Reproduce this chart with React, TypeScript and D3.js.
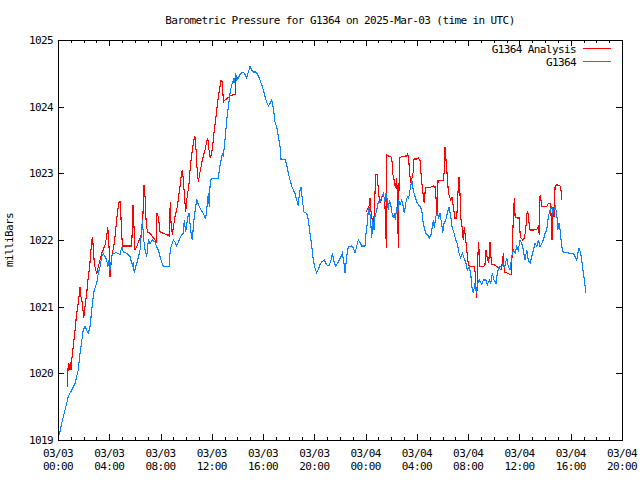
import React from "react";
import * as d3 from "d3";

// Hours since 2025-03-03 00:00 UTC
const stationTimes = [
  0.10, 0.29, 0.55, 0.80, 1.07, 1.33, 1.58, 1.72, 1.97, 2.11, 2.36, 2.50, 2.63, 2.75, 2.83, 3.02, 3.14, 3.28, 3.41, 3.53,
  3.67, 3.80, 3.88, 3.98, 4.06, 4.19, 4.31, 4.58, 4.84, 4.97, 5.09, 5.36, 5.62, 5.80, 5.87, 5.95, 6.06, 6.22, 6.40, 6.48,
  6.58, 6.69, 6.79, 6.92, 7.05, 7.18, 7.36, 7.57, 7.70, 7.83, 7.96, 8.09, 8.22, 8.66, 8.74, 8.82, 9.00, 9.13, 9.26, 9.39,
  9.52, 9.65, 9.78, 9.85, 9.96, 10.04, 10.17, 10.22, 10.30, 10.38, 10.48, 10.56, 10.63, 10.74, 10.82, 10.95, 11.16, 11.34, 11.52, 11.62,
  11.73, 11.80, 11.88, 11.99, 12.51, 12.58, 12.72, 12.82, 12.90, 12.97, 13.08, 13.16, 13.29, 13.42, 13.55, 13.68, 13.75, 13.86, 13.94, 14.07,
  14.20, 14.33, 14.49, 14.59, 14.72, 14.85, 14.98, 15.11, 15.24, 15.42, 15.58, 15.76, 15.89, 16.02, 16.15, 16.28, 16.41, 16.54, 16.67, 16.80,
  16.93, 17.06, 17.19, 17.32, 17.40, 17.71, 17.84, 17.97, 18.10, 18.23, 18.36, 18.49, 18.62, 18.75, 18.83, 18.96, 19.06, 19.19, 19.40, 19.53,
  19.66, 19.79, 19.92, 20.05, 20.18, 20.31, 20.44, 20.57, 20.78, 20.96, 21.14, 21.30, 21.40, 21.56, 21.67, 21.87, 22.08, 22.18, 22.31, 22.39,
  22.52, 22.65, 22.91, 23.04, 23.17, 23.30, 23.43, 23.56, 23.69, 23.95, 24.03, 24.13, 24.21, 24.29, 24.40, 24.48, 24.55, 24.65, 24.73, 24.87,
  24.99, 25.12, 25.26, 25.38, 25.51, 25.59, 25.69, 25.77, 25.85, 25.96, 26.04, 26.16, 26.24, 26.32, 26.43, 26.50, 26.58, 26.68, 26.82, 26.94,
  27.02, 27.13, 27.25, 27.36, 27.46, 27.60, 27.67, 27.78, 27.85, 27.99, 28.11, 28.24, 28.38, 28.45, 28.56, 28.69, 28.84, 28.97, 29.10, 29.20,
  29.28, 29.36, 29.47, 29.59, 29.70, 29.80, 29.94, 30.01, 30.12, 30.25, 30.37, 30.51, 30.64, 30.74, 30.90, 31.03, 31.15, 31.29, 31.42, 31.54,
  31.68, 31.83, 31.93, 32.07, 32.20, 32.28, 32.40, 32.53, 32.64, 32.74, 32.87, 33.06, 33.18, 33.39, 33.50, 33.65, 33.76, 33.88, 34.02, 34.17,
  34.27, 34.41, 34.62, 34.74, 34.85, 35.01, 35.13, 35.26, 35.40, 35.52, 35.66, 35.79, 35.91, 36.05, 36.18, 36.30, 36.43, 36.57, 36.69, 36.83,
  36.96, 37.08, 37.22, 37.35, 37.47, 37.61, 37.74, 37.86, 38.00, 38.13, 38.25, 38.39, 38.52, 38.60, 38.70, 38.80, 38.91, 38.99, 39.09, 39.17,
  39.30, 39.42, 40.20, 40.34, 40.47, 40.55, 40.65, 40.78, 40.86, 40.99, 41.10, 41.17,
];
const stationValues = [
  1019.08, 1019.25, 1019.45, 1019.65, 1019.75, 1019.85, 1020.05, 1020.30, 1020.65, 1020.70, 1020.60, 1020.70, 1020.95, 1021.15, 1021.25, 1021.35, 1021.50, 1021.60, 1021.75, 1021.80,
  1021.75, 1021.70, 1021.60, 1021.70, 1021.55, 1021.75, 1021.80, 1021.81, 1021.78, 1021.90, 1021.82, 1021.80, 1021.75, 1021.62, 1021.67, 1021.50, 1021.60, 1021.70, 1021.85, 1022.05,
  1022.30, 1022.00, 1021.85, 1021.75, 1022.00, 1021.95, 1022.00, 1021.97, 1021.90, 1021.85, 1021.75, 1021.67, 1021.60, 1021.60, 1021.80, 1021.90, 1022.00, 1021.97, 1021.91, 1021.97,
  1022.03, 1022.08, 1022.10, 1022.30, 1022.12, 1022.23, 1022.38, 1022.40, 1022.25, 1022.10, 1022.00, 1022.20, 1022.35, 1022.50, 1022.61, 1022.53, 1022.45, 1022.40, 1022.31, 1022.50,
  1022.70, 1022.50, 1022.90, 1022.92, 1022.92, 1023.05, 1023.20, 1023.30, 1023.25, 1023.40, 1023.60, 1023.80, 1024.00, 1024.20, 1024.33, 1024.40, 1024.35, 1024.50, 1024.40, 1024.43,
  1024.48, 1024.51, 1024.51, 1024.48, 1024.43, 1024.52, 1024.60, 1024.55, 1024.52, 1024.52, 1024.48, 1024.40, 1024.33, 1024.25, 1024.15, 1024.07, 1024.01, 1024.05, 1024.10, 1023.98,
  1023.77, 1023.70, 1023.55, 1023.40, 1023.21, 1023.21, 1023.13, 1023.00, 1022.90, 1022.81, 1022.75, 1022.70, 1022.60, 1022.51, 1022.70, 1022.80, 1022.60, 1022.42, 1022.40, 1022.30,
  1022.10, 1021.92, 1021.70, 1021.58, 1021.51, 1021.56, 1021.63, 1021.67, 1021.70, 1021.63, 1021.61, 1021.70, 1021.80, 1021.65, 1021.61, 1021.67, 1021.75, 1021.80, 1021.65, 1021.50,
  1021.75, 1021.90, 1021.91, 1021.88, 1021.81, 1021.90, 1022.00, 1021.96, 1021.91, 1021.91, 1022.10, 1022.25, 1022.45, 1022.50, 1022.25, 1022.03, 1022.30, 1022.15, 1022.35, 1022.45,
  1022.57, 1022.57, 1022.65, 1022.70, 1022.57, 1022.70, 1022.60, 1022.45, 1022.60, 1022.53, 1022.42, 1022.33, 1022.40, 1022.30, 1022.50, 1022.40, 1022.60, 1022.53, 1022.60, 1022.50,
  1022.40, 1022.55, 1022.65, 1022.63, 1022.75, 1022.90, 1022.80, 1022.70, 1022.65, 1022.57, 1022.53, 1022.50, 1022.45, 1022.30, 1022.20, 1022.10, 1022.08, 1022.03, 1022.08, 1022.20,
  1022.30, 1022.18, 1022.35, 1022.40, 1022.33, 1022.40, 1022.23, 1022.10, 1022.25, 1022.30, 1022.40, 1022.50, 1022.35, 1022.20, 1022.10, 1022.00, 1021.95, 1021.80, 1021.73, 1021.80,
  1021.73, 1021.65, 1021.55, 1021.60, 1021.50, 1021.30, 1021.20, 1021.35, 1021.20, 1021.35, 1021.40, 1021.33, 1021.40, 1021.40, 1021.33, 1021.40, 1021.35, 1021.50, 1021.40, 1021.35,
  1021.50, 1021.60, 1021.60, 1021.65, 1021.60, 1021.73, 1021.60, 1021.55, 1021.75, 1021.85, 1021.80, 1021.90, 1021.85, 1022.00, 1021.95, 1021.85, 1021.70, 1021.85, 1021.70, 1021.65,
  1021.75, 1021.85, 1021.95, 1021.90, 1022.00, 1021.90, 1021.95, 1022.00, 1022.10, 1022.15, 1022.35, 1022.45, 1022.50, 1022.40, 1022.45, 1022.50, 1022.40, 1022.15, 1022.25, 1022.15,
  1021.90, 1021.81, 1021.80, 1021.75, 1021.70, 1021.80, 1021.88, 1021.80, 1021.70, 1021.50, 1021.35, 1021.20,
];

// Analysis series (null = gap in data)
const analysisTimes = [
  0.73, 0.80, 0.88, 0.96, 1.01, 1.12, 1.22, 1.33, 1.43, 1.54, 1.64, 1.72, 1.79, 1.90, 2.01, 2.11, 2.24, 2.36, 2.47, 2.57,
  2.68, 2.75, 2.83, 2.94, 3.04, 3.14, 3.28, 3.41, 3.53, 3.67, 3.80, 3.88, 3.98, 4.06, 4.14, 4.24, 4.35, 4.45, 4.55, 4.66,
  4.76, 4.86, 4.92, 5.02, 5.75, 5.80, 5.85, 5.93, 6.01, 6.14, 6.27, 6.40, 6.53, 6.63, 6.71, 6.79, 6.87, 6.97, 7.18, 7.36,
  7.57, 7.67, 7.72, 7.83, 7.96, 8.22, 8.48, 8.66, 8.71, 8.76, 8.82, 8.92, 9.03, 9.13, 9.26, 9.34, 9.44, 9.52, 9.60, 9.70,
  9.78, 9.85, 9.96, 10.04, 10.12, 10.22, 10.30, 10.38, 10.48, 10.59, 10.69, 10.77, 10.84, 10.95, 11.06, 11.16, 11.26, 11.37, 11.47, 11.57,
  11.68, 11.78, 11.88, 11.99, 12.12, 12.19, 12.30, 12.41, 12.51, 12.62, 12.72, 12.82, 12.90, 13.03, 13.24, 13.42, 13.68, 13.81, 13.86, 13.94,
  14.08, 19.00,
  24.03, 24.21, 24.29, 24.34, 24.40, 24.48, 24.55, 24.65, 24.73, 24.79, 24.91, 24.99, 25.07, 25.18, 25.28, 25.38, 25.49, 25.57, 25.61, 25.64,
  25.77, 26.04, 26.11, 26.22, 26.32, 26.43, 26.50, 26.55, 26.63, 26.82, 27.07, 27.21, 27.28, 27.36, 27.46, 27.54, 27.62, 27.72, 27.78, 27.93,
  28.11, 28.24, 28.32, 28.40, 28.50, 28.58, 28.66, 28.77, 29.02, 29.28, 29.41, 29.49, 29.57, 29.65, 29.75, 29.94, 30.06, 30.14, 30.19, 30.27,
  30.37, 30.45, 30.53, 30.64, 30.74, 30.84, 30.97, 31.11, 31.18, 31.29, 31.36, 31.44, 31.52, 31.62, 31.70, 31.78, 31.89, 32.01, 32.14, 32.40,
  32.51, 32.59, 32.67, 32.74, 32.79, 32.87, 32.92, 33.18, 33.31, 33.39, 33.49, 33.60, 33.70, 33.78, 33.86, 34.02, 34.23, 34.43, 34.56, 34.66,
  34.74, 34.82, 34.93, 35.13, 35.26, 35.37, 35.44, 35.52, 35.60, 35.66, 35.79, 35.97, 36.05, 36.12, 36.26, 36.38, 36.49, 36.57, 36.65, 36.72,
  36.83, 37.08, 37.35, 37.47, 37.55, 37.61, 37.68, 37.76, 37.92, 38.13, 38.25, 38.39, 38.46, 38.54, 38.62, 38.70, 38.78, 38.91, 39.17, 39.24,
  39.30,
];
const analysisValues = [
  1019.80, 1020.15, 1020.05, 1020.17, 1020.05, 1020.30, 1020.45, 1020.65, 1020.85, 1021.00, 1021.15, 1021.30, 1021.15, 1021.05, 1020.83, 1021.00, 1021.20, 1021.45, 1021.60, 1021.85,
  1022.05, 1021.90, 1021.65, 1021.55, 1021.50, 1021.60, 1021.70, 1021.80, 1021.85, 1021.93, 1022.05, 1022.20, 1021.90, 1021.45, 1021.65, 1021.80, 1021.90, 1022.05, 1022.25, 1022.45,
  1022.57, 1022.57, 1022.30, 1021.91, 1021.91, 1022.20, 1022.53, 1022.20, 1021.85, 1021.90, 1021.97, 1022.03, 1022.10, 1022.40, 1022.83, 1022.65, 1022.30, 1022.12, 1022.10, 1022.05,
  1022.00, 1021.95, 1022.40, 1022.35, 1022.12, 1022.10, 1022.08, 1022.06, 1022.33, 1022.57, 1022.25, 1022.08, 1022.23, 1022.35, 1022.45, 1022.55, 1022.70, 1022.80, 1022.95, 1023.05,
  1022.90, 1022.70, 1022.42, 1022.60, 1022.70, 1022.85, 1023.05, 1023.20, 1023.35, 1023.50, 1023.55, 1023.35, 1023.10, 1022.87, 1023.00, 1023.10, 1023.20, 1023.28, 1023.35, 1023.45,
  1023.53, 1023.35, 1023.23, 1023.30, 1023.50, 1023.65, 1023.80, 1024.00, 1024.15, 1024.28, 1024.40, 1024.37, 1024.07, 1024.10, 1024.13, 1024.16, 1024.18, 1024.18, 1024.45, 1024.43,
  1024.45, null,
  1022.42, 1022.48, 1022.53, 1022.63, 1022.45, 1022.35, 1022.25, 1022.33, 1022.70, 1022.98, 1022.98, 1022.75, 1022.60, 1022.57, 1022.65, 1022.68, 1022.60, 1022.20, 1021.88, 1023.28,
  1023.26, 1023.24, 1023.00, 1022.90, 1022.78, 1022.93, 1022.40, 1021.88, 1023.23, 1023.25, 1023.26, 1023.26, 1023.30, 1023.20, 1022.95, 1022.85, 1022.93, 1023.03, 1023.23, 1023.21,
  1023.23, 1023.20, 1023.00, 1022.83, 1022.65, 1022.55, 1022.78, 1022.79, 1022.79, 1022.81, 1022.80, 1022.63, 1022.38, 1022.90, 1022.89, 1022.89, 1022.90, 1023.05, 1023.40, 1023.20,
  1022.95, 1022.73, 1022.65, 1022.60, 1022.65, 1022.50, 1022.33, 1022.33, 1022.65, 1022.95, 1022.70, 1022.30, 1022.20, 1022.00, 1022.20, 1022.05, 1021.85, 1021.63, 1021.61, 1021.60,
  1021.60, 1021.35, 1021.13, 1021.60, 1021.97, 1021.80, 1021.60, 1021.60, 1021.63, 1021.85, 1021.73, 1021.65, 1021.97, 1021.73, 1021.63, 1021.63, 1021.60, 1021.58, 1021.55, 1021.65,
  1021.80, 1021.52, 1021.51, 1021.50, 1021.48, 1021.48, 1021.85, 1022.35, 1022.63, 1022.35, 1022.33, 1022.33, 1022.10, 1022.03, 1022.00, 1022.03, 1022.15, 1022.40, 1022.43, 1022.30,
  1022.15, 1022.15, 1022.16, 1022.20, 1022.08, 1022.68, 1022.60, 1022.50, 1022.51, 1022.50, 1022.55, 1022.55, 1022.40, 1022.00, 1022.50, 1022.35, 1022.80, 1022.83, 1022.81, 1022.75,
  1022.60,
];

const xTickHours = [0, 4, 8, 12, 16, 20, 24, 28, 32, 36, 40, 44];
const xTickDates = ["03/03", "03/03", "03/03", "03/03", "03/03", "03/03", "03/04", "03/04", "03/04", "03/04", "03/04", "03/04"];
const xTickTimes = ["00:00", "04:00", "08:00", "12:00", "16:00", "20:00", "00:00", "04:00", "08:00", "12:00", "16:00", "20:00"];
const yTicks = [1019, 1020, 1021, 1022, 1023, 1024, 1025];

const title = "Barometric Pressure for G1364 on 2025-Mar-03 (time in UTC)";
const yLabel = "milliBars";
const seriesNames = ["G1364 Analysis", "G1364"];
const seriesColors = ["#ff0000", "#0a80ff"];

const W = 640, H = 480;
const M = { left: 58, right: 622, top: 40, bottom: 440 };
const FONT = "'DejaVu Sans Mono', monospace";

type Pt = { t: number; v: number | null };

export default function App() {
  const x = d3.scaleLinear().domain([0, 44]).range([M.left, M.right]);
  const y = d3.scaleLinear().domain([1019, 1025]).range([M.bottom, M.top]);

  const station: Pt[] = stationTimes.map((t, i) => ({ t, v: stationValues[i] }));
  const analysis: Pt[] = analysisTimes.map((t, i) => ({ t, v: analysisValues[i] }));

  const line = d3
    .line<Pt>()
    .defined((d) => d.v != null)
    .x((d) => x(d.t))
    .y((d) => y(d.v as number));

  const minorHours = d3.range(0, 45);
  const textStyle: React.CSSProperties = { fontFamily: FONT, fontSize: 11, letterSpacing: -0.6 };

  return (
    <svg
      width={W}
      height={H}
      viewBox={`0 0 ${W} ${H}`}
      style={{ position: "absolute", left: 0, top: 0, background: "#fff" }}
    >
      <rect x={0} y={0} width={W} height={H} fill="#fff" />
      <defs>
        <clipPath id="plotclip">
          <rect x={M.left} y={M.top} width={M.right - M.left} height={M.bottom - M.top} />
        </clipPath>
      </defs>
      <g clipPath="url(#plotclip)" shapeRendering="crispEdges">
        <path d={line(analysis) || ""} fill="none" stroke={seriesColors[0]} strokeWidth={1.1} />
        <path d={line(station) || ""} fill="none" stroke={seriesColors[1]} strokeWidth={1.1} />
      </g>
      <g shapeRendering="crispEdges" stroke="#000" strokeWidth={1}>
        {minorHours.map((h) => {
          const major = h % 4 === 0;
          const len = major ? 6 : 3;
          const xx = Math.round(x(h)) + 0.5;
          return (
            <g key={h}>
              <line x1={xx} x2={xx} y1={M.bottom} y2={M.bottom - len} />
              <line x1={xx} x2={xx} y1={M.top} y2={M.top + len} />
            </g>
          );
        })}
        {yTicks.map((v) => {
          const yy = Math.round(y(v)) + 0.5;
          return (
            <g key={v}>
              <line x1={M.left} x2={M.left + 6} y1={yy} y2={yy} />
              <line x1={M.right} x2={M.right - 6} y1={yy} y2={yy} />
            </g>
          );
        })}
        <rect x={M.left + 0.5} y={M.top + 0.5} width={M.right - M.left} height={M.bottom - M.top} fill="none" />
      </g>
      <g style={textStyle} fill="#000">
        {yTicks.map((v) => (
          <text key={v} x={M.left - 5} y={y(v)} dy="0.35em" textAnchor="end">
            {v}
          </text>
        ))}
        {xTickHours.map((h, i) => (
          <g key={h}>
            <text x={x(h)} y={457} textAnchor="middle">
              {xTickDates[i]}
            </text>
            <text x={x(h)} y={470} textAnchor="middle">
              {xTickTimes[i]}
            </text>
          </g>
        ))}
        <text x={(M.left + M.right) / 2} y={24} textAnchor="middle">
          {title}
        </text>
        <text transform={`translate(13,240) rotate(-90)`} textAnchor="middle">
          {yLabel}
        </text>
        {seriesNames.map((name, i) => (
          <g key={name}>
            <text x={576} y={49 + i * 13} dy="0.35em" textAnchor="end">
              {name}
            </text>
            <line
              x1={583}
              x2={611}
              y1={48.5 + i * 13}
              y2={48.5 + i * 13}
              stroke={seriesColors[i]}
              strokeWidth={1}
              shapeRendering="crispEdges"
            />
          </g>
        ))}
      </g>
    </svg>
  );
}
